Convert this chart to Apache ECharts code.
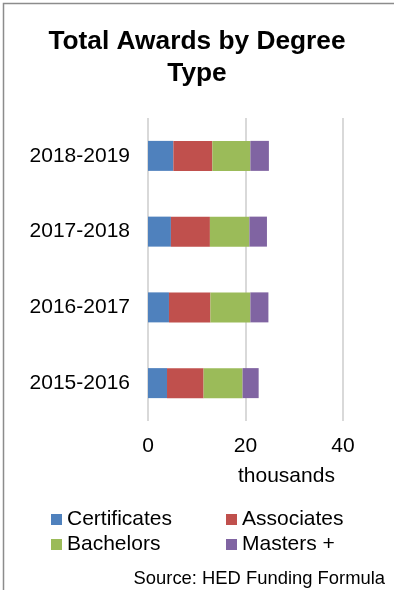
<!DOCTYPE html>
<html>
<head>
<meta charset="utf-8">
<script src="https://cdn.jsdelivr.net/npm/echarts@6/dist/echarts.min.js"></script>
<style>
  html, body { margin: 0; padding: 0; background: #fff; }
  #chart { width: 394px; height: 590px; }
</style>
</head>
<body>
<div id="chart"></div>
<script>
// Academic years, bottom to top on the category axis
const years = ['2015-2016', '2016-2017', '2017-2018', '2018-2019'];

// Awards in thousands, per degree type
const certificates = [3.9, 4.3, 4.7, 5.2];
const associates   = [7.5, 8.5, 8.0, 8.0];
const bachelors    = [8.0, 8.2, 8.1, 7.8];
const masters      = [3.3, 3.7, 3.6, 3.8];

const seriesNames = ['Certificates', 'Associates', 'Bachelors', 'Masters +'];
const seriesColors = ['#4f81bd', '#c0504d', '#9bbb59', '#8064a2'];
const seriesData = [certificates, associates, bachelors, masters];

const FONT = '"Liberation Sans", Arial, sans-serif';

const chart = echarts.init(document.getElementById('chart'), null, { renderer: 'canvas' });

// One legend block per entry so the two columns line up
const legendPos = [
  { left: 51, top: 509 },
  { left: 226, top: 509 },
  { left: 51, top: 534 },
  { left: 226, top: 534 }
];
const legends = seriesNames.map((name, i) => ({
  data: [name],
  left: legendPos[i].left,
  top: legendPos[i].top,
  padding: 0,
  itemWidth: 11,
  itemHeight: 11,
  itemGap: 0,
  icon: 'rect',
  selectedMode: false,
  textStyle: { fontFamily: FONT, fontSize: 21, color: '#000', padding: [0, 0, 0, 0] }
}));

chart.setOption({
  animation: false,
  backgroundColor: '#fff',
  title: [
    {
      text: 'Total Awards by Degree\nType',
      left: 'center',
      top: 26,
      padding: 0,
      textStyle: { fontFamily: FONT, fontSize: 26.3, fontWeight: 'bold', color: '#000', lineHeight: 32 }
    },
    {
      text: 'thousands',
      left: 238,
      top: 466,
      padding: 0,
      textStyle: { fontFamily: FONT, fontSize: 21, fontWeight: 'normal', color: '#000' }
    },
    {
      text: 'Source: HED Funding Formula',
      right: 9,
      top: 570,
      padding: 0,
      textStyle: { fontFamily: FONT, fontSize: 18.4, fontWeight: 'normal', color: '#000' }
    }
  ],
  legend: legends,
  grid: { left: 148, right: 51, top: 118, bottom: 169, containLabel: false },
  xAxis: {
    type: 'value',
    min: 0,
    max: 40,
    interval: 20,
    axisLine: { show: false },
    axisTick: { show: false },
    splitLine: { show: true, lineStyle: { color: '#d9d9d9', width: 2 } },
    axisLabel: { fontFamily: FONT, fontSize: 21, color: '#000', margin: 15 }
  },
  yAxis: {
    type: 'category',
    data: years,
    axisLine: { show: false },
    axisTick: { show: false },
    axisLabel: { fontFamily: FONT, fontSize: 21, color: '#000', margin: 18 }
  },
  series: seriesNames.map((name, i) => ({
    name: name,
    type: 'bar',
    stack: 'total',
    barWidth: 30,
    data: seriesData[i],
    itemStyle: { color: seriesColors[i] }
  })),
  graphic: [
    {
      type: 'rect',
      shape: { x: 3.5, y: 3.5, width: 500, height: 700 },
      style: { fill: null, stroke: '#8c8c8c', lineWidth: 1.5 },
      silent: true,
      z: 100
    }
  ]
});
</script>
</body>
</html>
